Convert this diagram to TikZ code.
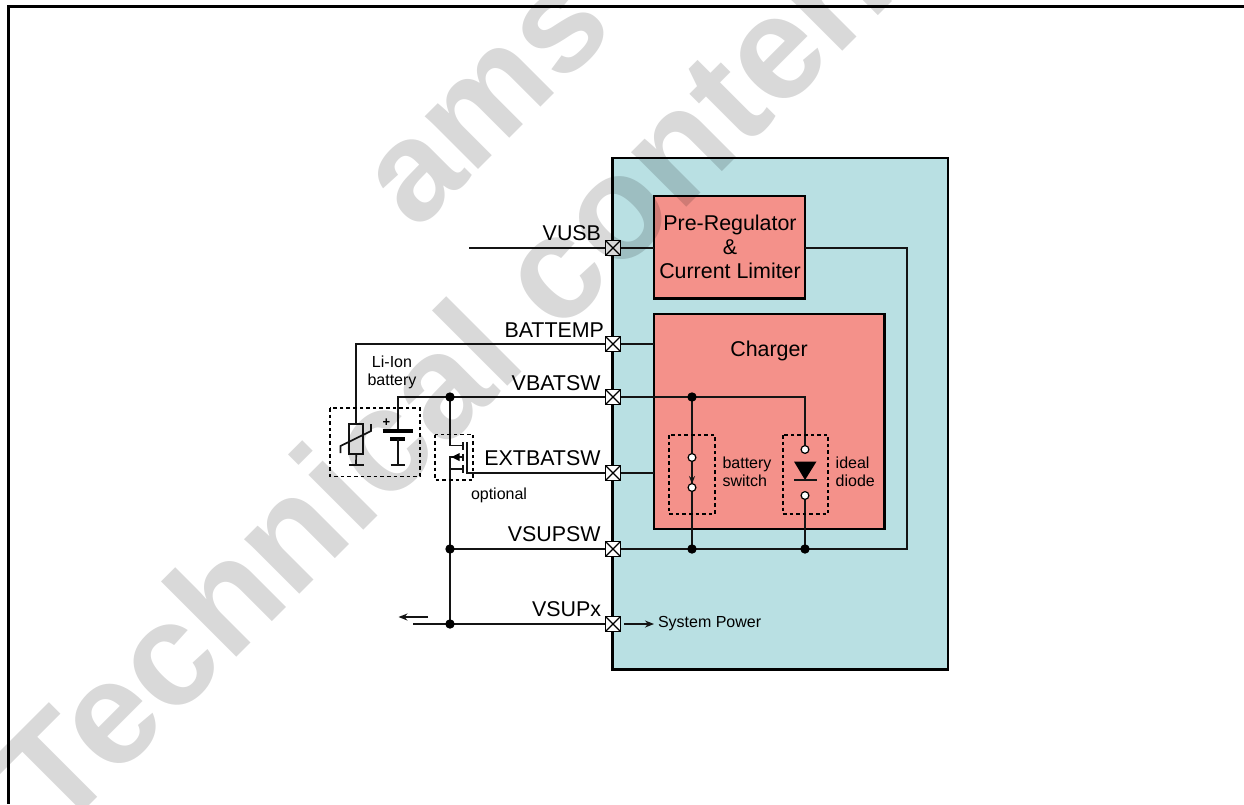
\documentclass[tikz,border=0pt]{standalone}
\usepackage{fontspec}
\setmainfont{Liberation Sans}
\usetikzlibrary{arrows.meta}
\pgfdeclarelayer{front}
\pgfdeclarelayer{wm}
\pgfsetlayers{main,front,wm}
\definecolor{chip}{HTML}{B9E0E3}
\definecolor{blockred}{HTML}{F4918A}
\definecolor{ink}{HTML}{141414}
\definecolor{wmgray}{HTML}{D9D9D9}
\tikzset{
  wire/.style={draw=ink,line width=1.7pt},
  fuse/.style={draw=black,line width=1.8pt,dash pattern=on 3.6pt off 3pt},
  box/.style={draw=black,line width=2.2pt,fill=blockred,inner sep=0pt,outer sep=0pt,minimum width=#1},
  pad/.style={draw=black,line width=1.5pt,fill=white,minimum size=15pt,inner sep=0pt,outer sep=0pt,
    path picture={\draw[black,line width=1.1pt] (path picture bounding box.north west)--(path picture bounding box.south east)
      (path picture bounding box.north east)--(path picture bounding box.south west);}},
  dot/.style={circle,fill=black,minimum size=9.4pt,inner sep=0pt,outer sep=0pt},
  ring/.style={circle,draw=black,line width=1.2pt,fill=white,minimum size=7.8pt,inner sep=0pt,outer sep=0pt},
  big/.style={font=\fontsize{21.4}{24}\selectfont,text=black,inner sep=0pt,outer sep=0pt},
  small/.style={font=\fontsize{16}{18}\selectfont,text=black,inner sep=0pt,outer sep=0pt},
  thru/.style={line width=1.6pt,draw=ink,-{Stealth[length=9pt,width=7pt]}},
  wmtext/.style={font=\fontsize{147}{147}\selectfont\bfseries,text=wmgray,rotate=45,inner sep=0pt,outer sep=0pt,anchor=base west},
  wmtextb/.style={wmtext,font=\fontsize{142}{142}\selectfont\bfseries},
}
\begin{document}
\begin{tikzpicture}[x=1pt,y=-1pt]
\useasboundingbox (0,0) rectangle (1244,804);
% page frame
\coordinate (fa) at (1244,6.5);
\coordinate (fb) at (8.5,6.5);
\coordinate (fc) at (8.5,804);
\draw[black,line width=2.2pt,line join=miter] (fa)--(fb)--(fc);
% chip body and blocks
\node[draw=black,line width=2.6pt,fill=chip,inner sep=0pt,outer sep=0pt,minimum width=335.5pt,minimum height=511.5pt] (chipbody) at (780.25,413.75) {};
\node[box=151pt,minimum height=102.5pt] (prereg) at (729.5,247.25) {};
\node[box=230.5pt,minimum height=215pt] (charger) at (769.25,421.5) {};
% named points
\coordinate (usbin) at (469,248);
\coordinate (thtop) at (356,344);
\coordinate (thbody) at (356,424);
\coordinate (thlow) at (356,454);
\coordinate (thgnd) at (356,465);
\coordinate (batvb) at (398,397);
\coordinate (batp) at (398,431);
\coordinate (batn) at (398,439);
\coordinate (batg) at (398,465);
\coordinate (sysl) at (413,624);
\coordinate (preout) at (805,248);
\coordinate (rail) at (907,248);
\coordinate (railb) at (907,549);
\coordinate (diodein) at (805,397);
\coordinate (chgin) at (654,344);
\coordinate (extin) at (654,473);
\coordinate (usbblk) at (654,248);
\coordinate (dr) at (450,445.5);
\coordinate (drc) at (463,445.5);
\coordinate (gt) at (450,457);
\coordinate (gtc) at (463,457);
\coordinate (sr) at (450,469);
\coordinate (src) at (463,469);
\coordinate (gate) at (467,473);
\coordinate (gatetop) at (467,442);
\begin{pgfonlayer}{front}
\node[pad] (pusb) at (613,248) {};
\node[pad] (pbat) at (613,344) {};
\node[pad] (pvb) at (613,397) {};
\node[pad] (pext) at (613,473) {};
\node[pad] (psw) at (613,549) {};
\node[pad] (psys) at (613,624) {};
\node[dot] (d1) at (450,397) {};
\node[dot] (d2) at (450,549) {};
\node[dot] (d3) at (450,624) {};
\node[dot] (d4) at (692,397) {};
\node[dot] (d5) at (692,549) {};
\node[dot] (d6) at (805,549) {};
\node[ring] (r1) at (692,457.5) {};
\node[ring] (r2) at (692,487.5) {};
\node[ring] (r3) at (805,449.5) {};
\node[ring] (r4) at (805,495.5) {};
\end{pgfonlayer}
% wires
\draw[wire] (usbin)--(usbblk);
\draw[wire] (preout)--(rail)--(railb)--(psw.center);
\draw[wire] (thbody)--(thtop)--(chgin);
\draw[wire] (batp)--(batvb)--(diodein)--(r3.center);
\draw[wire] (r4.center)--(d6.center);
\draw[wire] (gatetop)--(gate)--(extin);
\draw[wire] (d2.center)--(psw.center);
\draw[wire] (sysl)--(psys.center);
\draw[wire] (d1.center)--(dr)--(drc);
\draw[wire] (gtc)--(gt)--(d3.center);
\draw[wire] (sr)--(src);
\draw[wire] (d4.center)--(d5.center);
% mosfet channel and gate arrow
\coordinate (c1) at (463,442);
\coordinate (c2) at (463,449.5);
\coordinate (c3) at (463,453.5);
\coordinate (c4) at (463,461);
\coordinate (c5) at (463,465);
\coordinate (c6) at (463,473);
\draw[wire] (c1)--(c2) (c3)--(c4) (c5)--(c6);
\fill[black] (451.5,457)--(459.5,453)--(459.5,461)--cycle;
% thermistor
\node[draw=ink,line width=1.5pt,fill=none,minimum width=14pt,minimum height=30pt,inner sep=0pt,outer sep=0pt] (therm) at (356.2,439) {};
\draw[wire] (therm.south)--(thgnd);
\coordinate (tg1) at (349,465);
\coordinate (tg2) at (363.5,465);
\draw[draw=ink,line width=2.6pt] (tg1)--(tg2);
\coordinate (ts1) at (340.5,453);
\coordinate (ts2) at (340.5,446);
\coordinate (ts3) at (371,431);
\coordinate (ts4) at (371,424);
\draw[wire] (ts1)--(ts2)--(ts3)--(ts4);
% battery
\coordinate (bp1) at (382.5,431);
\coordinate (bp2) at (413,431);
\coordinate (bn1) at (390,439);
\coordinate (bn2) at (405,439);
\coordinate (bg1) at (390.5,465);
\coordinate (bg2) at (405,465);
\draw[draw=black,line width=3.2pt] (bp1)--(bp2);
\draw[draw=black,line width=3.2pt] (bn1)--(bn2);
\draw[wire] (batn)--(batg);
\draw[draw=ink,line width=2.6pt] (bg1)--(bg2);
\node[font=\fontsize{13}{13}\selectfont\bfseries,inner sep=0pt] (plus) at (386.5,423) {+};
% dashed frames
\draw[fuse] (330,408) rectangle (420,476.5);
\draw[fuse] (435,434.5) rectangle (473.3,480);
\draw[fuse] (669,435) rectangle (715,514);
\draw[fuse] (782.7,435) rectangle (828.3,514);
% switch arrow and diode
\coordinate (sw) at (692,484);
\draw[wire,-{Stealth[length=8pt,width=6pt]}] (r1.center)--(sw);
\coordinate (da) at (794,461.5);
\coordinate (db) at (816.5,461.5);
\coordinate (dc) at (805,480);
\fill[black] (da)--(db)--(dc)--cycle;
\coordinate (dl) at (794,480);
\coordinate (dm) at (816.5,480);
\draw[wire] (dl)--(dm);
% arrows
\coordinate (oa1) at (428,617);
\coordinate (oa2) at (398.5,617);
\draw[thru] (oa1)--(oa2);
\coordinate (sa1) at (624,624);
\coordinate (sa2) at (654,624);
\draw[thru] (sa1)--(sa2);
% labels
\node[big,anchor=base east] (lusb) at (601,240.5) {VUSB};
\node[big,anchor=base east] (lbat) at (604,337.3) {BATTEMP};
\node[big,anchor=base east] (lvb) at (600.5,390) {VBATSW};
\node[big,anchor=base east] (lext) at (600.5,465) {EXTBATSW};
\node[big,anchor=base east] (lsw) at (600.5,541) {VSUPSW};
\node[big,anchor=base east] (lsys) at (601,616.7) {VSUPx};
\node[big,anchor=base] (lpre) at (730,230.7) {Pre-Regulator};
\node[big,anchor=base] (lamp) at (730,254.3) {\&};
\node[big,anchor=base] (lcur) at (730,278) {Current Limiter};
\node[big,anchor=base] (lchg) at (769,356) {Charger};
\node[small,anchor=base] (lli) at (392,367) {Li-Ion};
\node[small,anchor=base] (lba) at (392,385) {battery};
\node[small,anchor=base west] (lop) at (471,499) {optional};
\node[small,anchor=base west] (ls1) at (722.5,468.5) {battery};
\node[small,anchor=base west] (ls2) at (722.5,486.5) {switch};
\node[small,anchor=base west] (ld1) at (835.7,468.5) {ideal};
\node[small,anchor=base west] (ld2) at (835.7,486.5) {diode};
\node[small,anchor=base west] (lpw) at (658,627.5) {System Power};
% watermark
\begin{pgfonlayer}{wm}
\begin{scope}[blend mode=multiply]
\node[wmtext] (wm1) at (58,836) {Technical content};
\node[wmtextb] (wm2) at (416,232) {ams};
\end{scope}
\end{pgfonlayer}
\end{tikzpicture}
\end{document}
